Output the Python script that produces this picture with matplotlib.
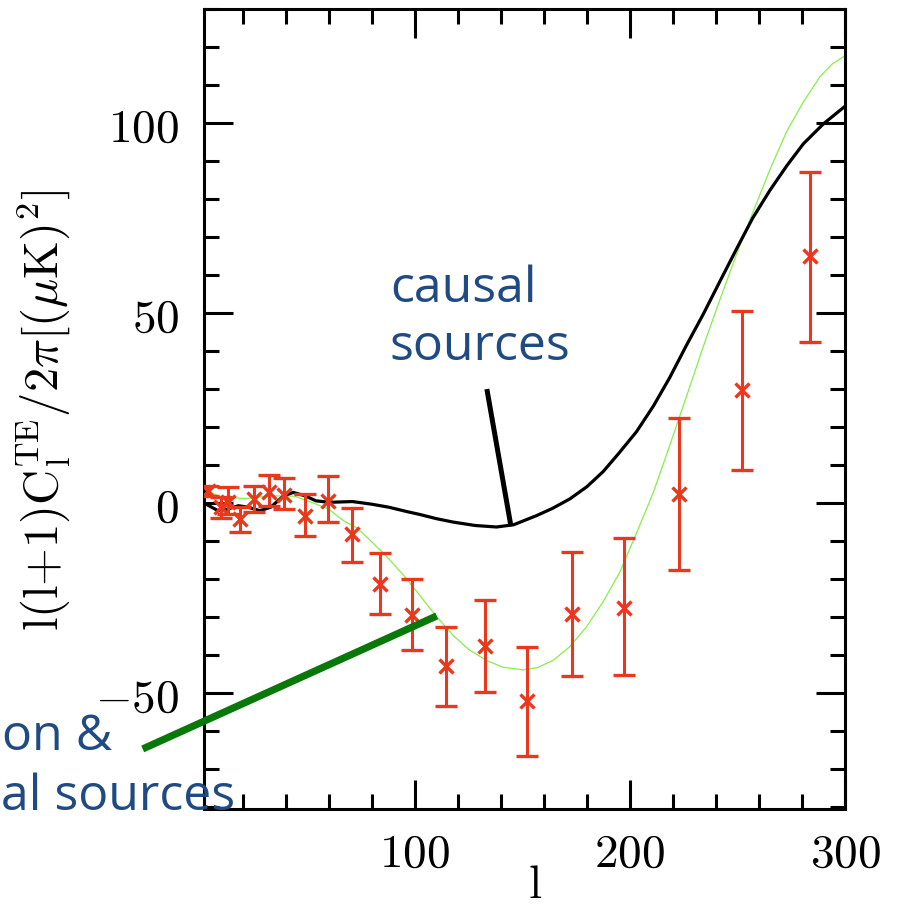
import matplotlib
matplotlib.use("Agg")
import matplotlib.pyplot as plt
from matplotlib.ticker import MultipleLocator, FuncFormatter

plt.rcParams['mathtext.fontset'] = 'cm'

# ---- data ----
# inflationary model (thin light-green curve)
infl_l = [2, 4, 10, 21, 33, 44, 52, 60, 67, 73, 80, 88, 96, 102.3, 110, 117.8, 125, 133.3,
          141, 150.4, 157, 164.3, 172, 179.8, 187.5, 195.3, 203, 210.9, 218.6, 226.4, 234,
          241.9, 249.6, 257.4, 265, 272.9, 280.6, 288.4, 294, 300]
infl_v = [3.5, 3.2, 1.5, 1.2, 1.9, 1.8, 0.2, -1.6, -4.7, -6.5, -10.2, -14.7, -19.8, -24.3,
          -29.8, -34.8, -38.5, -41.4, -43.2, -43.9, -43.3, -41.4, -37.8, -32.6, -26.0,
          -18.2, -8.0, 2.8, 15.3, 28.2, 41.0, 53.6, 65.5, 76.8, 87.6, 97.8, 105.5, 112.2,
          115.5, 117.7]

# causal-source model (black curve)
caus_l = [2, 3, 8.5, 13, 18, 22.5, 28, 33, 39, 43.5, 49, 54, 60, 66, 71, 80, 88, 96, 102.3,
          110, 117.8, 128, 138, 146, 156.6, 164, 172.1, 180, 187.6, 195, 203.1, 211, 218.6,
          226, 234.1, 242, 249.6, 257, 265.1, 273, 280.6, 290, 300]
caus_v = [0.0, -0.3, -2.0, -1.6, -0.7, -1.1, -2.0, -1.1, 1.9, 2.8, 1.9, 0.6, 0.2, 0.3, 0.4,
          -0.3, -1.1, -2.2, -3.0, -4.1, -5.0, -5.9, -6.3, -5.7, -3.3, -1.4, 1.1, 4.3, 8.3,
          13.2, 18.8, 25.6, 33.1, 41.2, 49.7, 58.5, 66.9, 74.9, 82.3, 88.8, 94.5, 99.8,
          104.4]

# binned TE data
data_l = [3.9, 10.1, 13.2, 18.9, 25.3, 32.1, 39.2, 48.8, 59.7, 70.8, 83.7, 98.9, 114.7,
          132.6, 152, 172.9, 197.2, 223, 252.2, 283.7]
data_v = [3.2, -1.1, 0.3, -4.2, 1.1, 2.8, 2.1, -3.3, 0.6, -8.2, -21.3, -29.5, -43, -37.5,
          -52, -29.2, -27.5, 2.4, 29.8, 65.1]
data_hi = [4.6, 1.5, 4.1, -1.1, 4.6, 7.4, 6.5, 2.4, 7.0, -1.3, -13.2, -20, -32.5, -25.4,
           -37.8, -13, -9.3, 22.4, 50.5, 87]
data_lo = [1.9, -4, -2.9, -7.7, -2.3, -0.7, -1.6, -8.6, -5.1, -15.6, -29.2, -38.6, -53.5,
           -49.8, -66.5, -45.4, -45.3, -17.6, 8.8, 42.4]

# annotation pointer lines (data coordinates)
causal_ptr_l = [133.5, 144.7]
causal_ptr_v = [30.0, -6.1]
infl_ptr_l = [-26.5, 110.2]
infl_ptr_v = [-64.7, -29.7]

RED = '#e8381e'
BLUE = '#1f4b82'

fig = plt.figure(figsize=(8.99, 9.12), dpi=100)
ax = fig.add_axes([204/899, 1-810/912, 641/899, 800/912])

ax.plot(infl_l, infl_v, color='#86ee4a', lw=0.9, zorder=2)
ax.plot(caus_l, caus_v, color='black', lw=2.3, zorder=3, solid_joinstyle='round')

err_lo = [v - lo for v, lo in zip(data_v, data_lo)]
err_hi = [hi - v for v, hi in zip(data_v, data_hi)]
ax.errorbar(data_l, data_v, yerr=[err_lo, err_hi], fmt='x', color=RED, ms=10.5, mew=2.4,
            elinewidth=2.2, capsize=8, capthick=2.2, zorder=4)

ax.plot(causal_ptr_l, causal_ptr_v, color='black', lw=3.6, clip_on=False, zorder=5,
        solid_capstyle='butt')
ax.plot(infl_ptr_l, infl_ptr_v, color='#087808', lw=5.2, clip_on=False, zorder=5,
        solid_capstyle='butt')

ax.set_xlim(2, 300)
ax.set_ylim(-80.5, 130)

ax.xaxis.set_major_locator(MultipleLocator(100))
ax.xaxis.set_minor_locator(MultipleLocator(20))
ax.yaxis.set_major_locator(MultipleLocator(50))
ax.yaxis.set_minor_locator(MultipleLocator(10))
fmt = FuncFormatter(lambda v, p: r'$%d$' % int(round(v)))
ax.xaxis.set_major_formatter(fmt)
ax.yaxis.set_major_formatter(fmt)

ax.tick_params(which='both', direction='in', top=True, right=True, width=2.2,
               labelsize=34, color='black')
ax.tick_params(which='major', length=21)
ax.tick_params(which='minor', length=10.5)
ax.tick_params(axis='x', which='major', pad=16)
ax.tick_params(axis='y', which='major', pad=18)
for s in ax.spines.values():
    s.set_linewidth(2.2)

ax.set_xlabel(r'$\mathrm{l}$', fontsize=34)
ax.xaxis.set_label_coords(0.516, -0.066)
ax.set_ylabel(r'$\mathrm{l(l{+}1)C_l^{TE}/2\pi[(\mu K)^2]}$', fontsize=35)
ax.yaxis.set_label_coords(-0.205, 0.5)

tfont = dict(family='Open Sans', fontsize=36, color=BLUE)
ax.text(88.4, 53.2, 'causal', ha='left', va='baseline', **tfont)
ax.text(88.4, 37.9, 'sources', ha='left', va='baseline', **tfont)
fig.text(2/899, 1-750/912, 'on &', ha='left', va='baseline', **tfont)
fig.text(1/899, 1-810/912, 'al sources', ha='left', va='baseline', zorder=6, **tfont)

fig.savefig('out.png', dpi=100)
